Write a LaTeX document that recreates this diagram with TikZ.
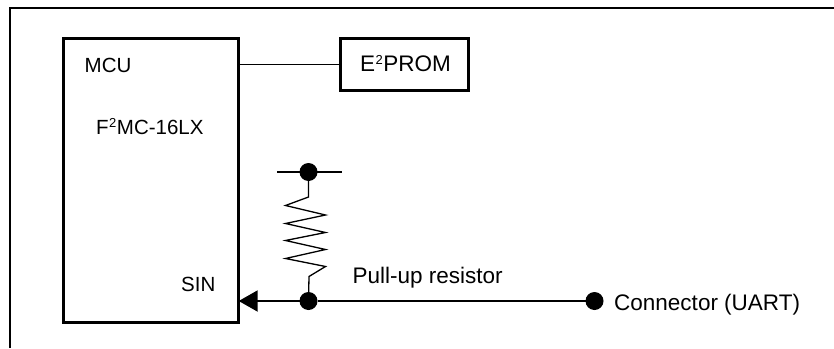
\documentclass[tikz,border=0pt]{standalone}
\usepackage{fontspec}
\setmainfont{Liberation Sans}
\usetikzlibrary{arrows.meta}
\tikzset{
    block/.style={draw, line width=2.7pt, minimum width=#1, outer sep=0pt, inner sep=0pt},
    dot/.style={circle, fill=black, minimum size=18pt, inner sep=0pt, outer sep=0pt},
    wire/.style={line width=1.3pt},
    label20/.style={inner sep=0pt, font=\fontsize{20.5}{24}\selectfont},
    label22/.style={inner sep=0pt, font=\fontsize{22.5}{26}\selectfont}
}
\newcommand{\uptwo}{\kern0.5pt\raisebox{6.8pt}{\fontsize{13}{15}\selectfont 2}\kern0.5pt}
\begin{document}
\begin{tikzpicture}[x=1pt,y=-1pt]
    \useasboundingbox (0,0) rectangle (834,348);

    % Cornice
    \coordinate (frameA) at (10,348);
    \coordinate (frameB) at (10,7.7);
    \coordinate (frameC) at (834,7.7);
    \draw[line width=1.7pt] (frameA) -- (frameB) -- (frameC);

    % Blocchi
    \node[block=175.4pt, minimum height=284pt] (mcu) at (151,180.3) {};
    \node[block=127.6pt, minimum height=52pt] (eeprom) at (404.5,64.3) {};
    \draw[wire] (eeprom.west) -- (eeprom.west -| mcu.east);

    % Etichette
    \node[label20, anchor=base west] (mculabel) at (84.5,72.5) {MCU};
    \node[label20, anchor=base west] (family) at (96,134.5) {F\uptwo MC-16LX};
    \node[label20, anchor=base east] (sin) at (215.5,291.5) {SIN};
    \node[label22, anchor=base west] (eelabel) at (360,71) {E\uptwo PROM};
    \node[label22, anchor=base west] (pullup) at (352.5,283) {Pull-up resistor};
    \node[label22, anchor=base west] (connlabel) at (614,310) {Connector (UART)};

    % Resistenza
    \node[dot] (top) at (308.5,172) {};
    \node[dot] (bottom) at (308.5,301) {};
    \node[dot] (conn) at (594.5,301) {};
    \coordinate (busL) at (277,172);
    \coordinate (busR) at (341.5,172);
    \draw[wire] (busL) -- (busR);
    \draw[wire] (top) -- ++(0,25) -- ++(-23,8.5)
        -- ++(40,9.5) -- ++(-40,8.5)
        -- ++(40,9) -- ++(-40,8)
        -- ++(40,9) -- ++(-40,9)
        -- ++(40,8) -- ++(-16.5,10) -- (bottom);

    % Ingresso SIN
    \coordinate (sinpin) at (mcu.east |- bottom);
    \draw[line width=2pt, -{Triangle[length=19pt,width=21pt]}] (bottom) -- (sinpin);
    \draw[wire] (bottom) -- (conn);
\end{tikzpicture}
\end{document}
